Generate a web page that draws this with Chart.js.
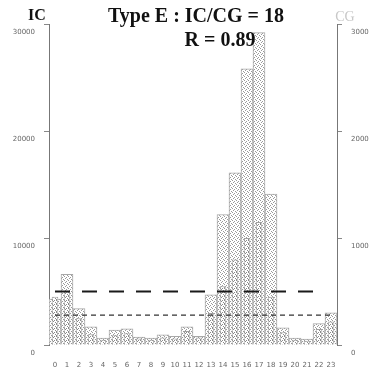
<!DOCTYPE html>
<html>
<head>
<meta charset="utf-8">
<script src="https://cdn.jsdelivr.net/npm/chart.js@4/dist/chart.umd.min.js"></script>
<style>
  html, body { margin: 0; padding: 0; background: #fff; }
  #wrap { position: relative; width: 374px; height: 372px; }
</style>
</head>
<body>
<div id="wrap"><canvas id="diurnal"></canvas></div>
<script>
// hourly flash counts, type E storm
var hours = ["0", "1", "2", "3", "4", "5", "6", "7", "8", "9", "10", "11",
             "12", "13", "14", "15", "16", "17", "18", "19", "20", "21", "22", "23"];
var icCounts = [4300, 6600, 3400, 1700, 650, 1400, 1500, 750, 650, 950, 800, 1700,
                800, 4700, 12200, 16100, 25800, 29200, 14100, 1600, 650, 550, 2000, 3000];
var cgCounts = [450, 500, 250, 100, 50, 90, 110, 60, 50, 70, 60, 130,
                70, 300, 550, 800, 1000, 1150, 450, 120, 50, 40, 150, 220];
var icMean = 5000;
var cgMean = 280;
var icTicks = [0, 10000, 20000, 30000];
var cgTicks = [0, 1000, 2000, 3000];
var titleLine = "Type E : IC/CG = 18";
var corrLine = "R = 0.89";

// small dotted fill, like a screened print
function stipple(dots, color) {
    var c = document.createElement('canvas');
    c.width = 4; c.height = 4;
    var g = c.getContext('2d');
    g.fillStyle = '#fff';
    g.fillRect(0, 0, 4, 4);
    g.fillStyle = color;
    dots.forEach(function (d) { g.fillRect(d[0], d[1], 1, 1); });
    return g.createPattern(c, 'repeat');
}
var icFill = stipple([[0, 0], [2, 1], [1, 2], [3, 3]], '#9a9a9a');
var cgFill = stipple([[0, 0], [2, 0], [1, 1], [3, 2], [0, 3]], '#8a8a8a');

// mean lines: long dashes stop at hour 22
var icMeanLine = hours.map(function (h, i) { return i < 23 ? icMean : null; });
var cgMeanLine = hours.map(function () { return cgMean; });

var serif = '"Liberation Serif", "DejaVu Serif", serif';
var tickFont = { family: '"DejaVu Sans", sans-serif', size: 7 };
var plainTick = function (v) { return String(v); };

var textPlugin = {
    id: 'headings',
    afterDraw: function (chart) {
        var c = chart.ctx;
        c.save();
        c.textAlign = 'center';
        c.textBaseline = 'middle';
        c.fillStyle = '#111';
        c.font = 'bold 20px ' + serif;
        c.fillText(titleLine, 196, 17);
        c.fillText(corrLine, 220, 41);
        c.font = 'bold 16px ' + serif;
        c.fillText('IC', 37, 16);
        c.fillStyle = '#c8c8c8';
        c.font = '14px ' + serif;
        c.fillText('CG', 345, 17);
        c.restore();
    }
};

var ctx = document.getElementById("diurnal").getContext('2d');

var diurnal = new Chart(ctx, {
    type: 'bar',
    data: {
        labels: hours,
        datasets: [
            {
                type: 'line',
                label: 'IC mean',
                data: icMeanLine,
                yAxisID: 'ic',
                borderColor: '#1a1a1a',
                borderWidth: 2,
                borderDash: [15, 12],
                pointRadius: 0,
                spanGaps: false,
                order: 0
            },
            {
                type: 'line',
                label: 'CG mean',
                data: cgMeanLine,
                yAxisID: 'cg',
                borderColor: '#333',
                borderWidth: 1.2,
                borderDash: [5, 4],
                pointRadius: 0,
                order: 0
            },
            {
                label: 'CG',
                data: cgCounts,
                yAxisID: 'cg',
                backgroundColor: cgFill,
                borderColor: '#a0a0a0',
                borderWidth: 1,
                barPercentage: 0.55,
                categoryPercentage: 1,
                grouped: false,
                order: 1
            },
            {
                label: 'IC',
                data: icCounts,
                yAxisID: 'ic',
                backgroundColor: icFill,
                borderColor: '#a8a8a8',
                borderWidth: 1,
                barPercentage: 1,
                categoryPercentage: 1,
                grouped: false,
                order: 2
            }
        ]
    },
    options: {
        responsive: true,
        maintainAspectRatio: false,
        animation: false,
        layout: { padding: { top: 24, left: 0, right: 0, bottom: 0 } },
        plugins: {
            legend: { display: false },
            tooltip: { enabled: false }
        },
        scales: {
            x: {
                offset: true,
                grid: { display: false },
                border: { display: false },
                ticks: { font: tickFont, color: '#666', padding: 8, maxRotation: 0, autoSkip: false },
                afterFit: function (s) { s.height = 27; }
            },
            ic: {
                position: 'left',
                min: 0,
                max: 30000,
                afterBuildTicks: function (s) { s.ticks = icTicks.map(function (v) { return { value: v }; }); },
                ticks: { font: tickFont, color: '#666', padding: 9, labelOffset: 8, callback: plainTick },
                grid: { drawOnChartArea: false, tickLength: 5, color: '#888' },
                border: { dash: [1, 1], color: '#777' },
                afterFit: function (s) { s.width = 49; }
            },
            cg: {
                position: 'right',
                min: 0,
                max: 3000,
                afterBuildTicks: function (s) { s.ticks = cgTicks.map(function (v) { return { value: v }; }); },
                ticks: { font: tickFont, color: '#666', padding: 9, labelOffset: 8, callback: plainTick },
                grid: { drawOnChartArea: false, tickLength: 5, color: '#888' },
                border: { dash: [1, 1], color: '#777' },
                afterFit: function (s) { s.width = 37; }
            }
        }
    },
    plugins: [textPlugin]
});
</script>
</body>
</html>
